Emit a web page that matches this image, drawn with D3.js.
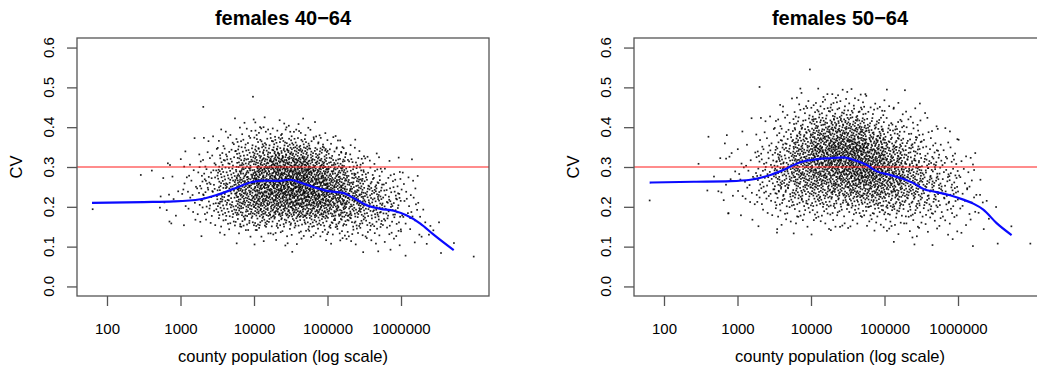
<!DOCTYPE html>
<html><head><meta charset="utf-8">
<script src="https://cdn.jsdelivr.net/npm/d3@7"></script>
<style>
body{margin:0;background:#fff}
svg{display:block}
text{font-family:"Liberation Sans",Arial,Helvetica,sans-serif;fill:#000}
</style>
</head><body>
<svg id="chart" width="1037" height="373"></svg>
<script>
// ---------------- data ----------------
const panelTitles = ["females 40\u221264", "females 50\u221264"];
const xAxisTitle = "county population (log scale)";
const yAxisTitle = "CV";
const xTickValues = [100, 1000, 10000, 100000, 1000000];
const xTickLabels = ["100", "1000", "10000", "100000", "1000000"];
const yTickValues = [0, 0.1, 0.2, 0.3, 0.4, 0.5, 0.6];
const yTickLabels = ["0.0", "0.1", "0.2", "0.3", "0.4", "0.5", "0.6"];
const refLineCV = 0.3;

// dense point cloud: counts of counties per cell (x = log10 population bin, y = CV bin)
const binLog10Start = [2.75, 3.0, 3.25, 3.5, 3.75, 4.0, 4.25, 4.5, 4.75, 5.0, 5.25, 5.5, 5.75, 6.0];
const binLog10Width = 0.25;
const cvBinWidth = 0.025;
const cvBinStart_40_64 = 0.075;
const counts_40_64 = [
  [0,0,0,1,2,2,2,1,1,1,0,0,0,0],
  [0,0,0,2,3,4,5,4,3,2,1,1,0,0],
  [0,0,1,4,7,10,11,10,8,6,4,2,1,0],
  [0,0,3,9,16,21,22,21,17,13,9,5,3,1],
  [0,1,5,14,26,34,37,36,31,24,16,9,5,2],
  [0,2,7,17,33,44,49,50,45,37,24,14,7,2],
  [0,3,7,17,35,48,55,58,55,46,30,16,8,3],
  [1,2,7,18,37,52,60,62,57,47,31,16,7,2],
  [0,2,8,20,36,50,56,53,45,34,21,10,4,1],
  [0,3,8,18,32,42,45,40,32,22,12,5,1,0],
  [1,3,8,16,26,32,31,26,19,11,5,2,0,0],
  [1,3,7,13,19,22,20,15,9,4,2,0,0,0],
  [1,3,6,9,13,14,11,7,4,2,0,0,0,0],
  [1,1,3,4,5,6,4,3,2,1,0,0,0,0]
];
const cvBinStart_50_64 = 0.1;
const counts_50_64 = [
  [0,0,0,1,1,2,2,1,1,1,1,0,0,0,0,0,0],
  [0,0,1,1,3,4,4,4,3,2,1,1,1,0,0,0,0],
  [0,0,1,3,5,8,10,10,9,7,5,3,2,1,0,0,0],
  [0,1,3,6,11,16,20,21,19,16,11,8,5,2,1,0,0],
  [0,1,4,8,15,22,28,32,33,30,24,18,12,7,4,1,0],
  [0,2,4,9,17,26,35,41,44,44,38,30,21,11,5,2,0],
  [0,2,4,9,18,28,38,45,50,51,46,36,25,14,7,3,0],
  [0,1,4,10,21,33,44,51,54,53,46,36,24,13,6,2,0],
  [0,2,5,12,23,34,44,49,48,42,33,22,14,7,3,1,0],
  [1,3,6,12,21,30,37,39,35,28,20,13,8,4,2,1,0],
  [1,2,5,10,17,23,27,26,22,17,12,8,5,3,1,1,0],
  [1,2,5,9,13,17,18,16,13,9,6,4,2,1,0,0,0],
  [1,2,4,6,9,11,11,9,7,5,3,2,0,0,0,0,0],
  [1,1,2,3,4,5,4,4,3,2,1,0,0,0,0,0,0]
];

// isolated points (log10 population, CV)
const sparseLog10Pop_40_64 = [1.805,2.46,2.61,2.73,2.72,2.857,2.85,3.05,3.31,3.986,4.018,4.13,6.26,6.28,6.303,6.33,6.35,6.38,6.40,6.44,6.517,6.544,6.72,6.989];
const sparseCV_40_64     = [0.194,0.280,0.291,0.226,0.198,0.305,0.163,0.301,0.451,0.4765,0.412,0.40,0.175,0.125,0.193,0.161,0.107,0.130,0.152,0.141,0.161,0.084,0.109,0.075];
const sparseLog10Pop_50_64 = [1.805,2.47,2.605,2.59,2.74,2.68,2.845,2.92,2.855,2.877,3.30,3.58,3.62,3.855,3.985,4.17,4.29,4.74,3.54,5.38,5.44,6.28,6.30,6.305,6.337,6.35,6.39,6.42,6.518,6.54,6.726,6.984];
const sparseCV_50_64     = [0.216,0.308,0.376,0.241,0.239,0.276,0.321,0.335,0.380,0.184,0.501,0.456,0.452,0.497,0.545,0.476,0.483,0.483,0.144,0.123,0.126,0.185,0.23,0.268,0.211,0.144,0.215,0.17,0.1995,0.1076,0.151,0.1076];

// smoothed (loess) curves (log10 population, CV)
const curveLog10Pop_40_64 = [1.796,2.499,2.907,3.27,3.497,3.723,3.95,4.13,4.313,4.494,4.63,4.81,4.993,5.22,5.356,5.537,5.72,5.9,6.08,6.263,6.444,6.717];
const curveCV_40_64     = [0.210,0.212,0.2136,0.219,0.230,0.245,0.261,0.266,0.265,0.268,0.261,0.2495,0.240,0.2345,0.222,0.2036,0.195,0.190,0.178,0.158,0.130,0.091];
const curveLog10Pop_50_64 = [1.805,2.407,2.905,3.176,3.448,3.629,3.855,4.081,4.262,4.443,4.579,4.76,4.896,5.077,5.258,5.394,5.529,5.71,5.891,6.072,6.208,6.344,6.525,6.729];
const curveCV_50_64     = [0.261,0.263,0.2645,0.268,0.280,0.293,0.312,0.3196,0.322,0.324,0.318,0.305,0.289,0.280,0.270,0.2595,0.245,0.237,0.229,0.218,0.208,0.193,0.159,0.129];

// ---------------- drawing ----------------
const svg = d3.select("#chart");
const boxW = 412, boxH = 258, boxTop = 38;
const panelLeft = [77, 634];

// deterministic within-cell placement (low-discrepancy sequence)
function halton(i, b) { let f = 1, r = 0; while (i > 0) { f /= b; r += f * (i % b); i = Math.floor(i / b); } return r; }

const panels = [
  {title: panelTitles[0], counts: counts_40_64, cvStart: cvBinStart_40_64,
   sx: sparseLog10Pop_40_64, sy: sparseCV_40_64, cx: curveLog10Pop_40_64, cy: curveCV_40_64},
  {title: panelTitles[1], counts: counts_50_64, cvStart: cvBinStart_50_64,
   sx: sparseLog10Pop_50_64, sy: sparseCV_50_64, cx: curveLog10Pop_50_64, cy: curveCV_50_64}
];

panels.forEach((p, pi) => {
  const g = svg.append("g").attr("transform", `translate(${panelLeft[pi]},${boxTop})`);
  const x = d3.scaleLog().domain([Math.pow(10, 1.592), Math.pow(10, 7.197)]).range([0, boxW]);
  const y = d3.scaleLinear().domain([-0.024, 0.624]).range([boxH, 0]);

  // points
  const pts = [];
  let k = 1;
  p.counts.forEach((row, bi) => {
    row.forEach((n, ci) => {
      for (let j = 0; j < n; j++) {
        const lx = binLog10Start[bi] + halton(k, 2) * binLog10Width;
        const cv = p.cvStart + ci * cvBinWidth + halton(k, 3) * cvBinWidth;
        k++;
        pts.push([Math.pow(10, lx), cv]);
      }
    });
  });
  p.sx.forEach((lx, i) => pts.push([Math.pow(10, lx), p.sy[i]]));

  g.append("g").selectAll("rect").data(pts).join("rect")
    .attr("x", d => x(d[0]) - 0.85).attr("y", d => y(d[1]) - 0.85)
    .attr("width", 1.7).attr("height", 1.7)
    .attr("fill", "#000").attr("fill-opacity", 0.88);

  // reference line
  g.append("line").attr("x1", 0).attr("x2", boxW)
    .attr("y1", y(refLineCV)).attr("y2", y(refLineCV))
    .attr("stroke", "#ff1a1a").attr("stroke-width", 1.1);

  // smooth curve
  const cdata = p.cx.map((lx, i) => [Math.pow(10, lx), p.cy[i]]);
  g.append("path").datum(cdata)
    .attr("fill", "none").attr("stroke", "#0a0aff").attr("stroke-width", 2.2)
    .attr("d", d3.line().x(d => x(d[0])).y(d => y(d[1])).curve(d3.curveMonotoneX));

  // box
  g.append("rect").attr("x", 0).attr("y", 0).attr("width", boxW).attr("height", boxH)
    .attr("fill", "none").attr("stroke", "#555").attr("stroke-width", 1.3);

  // x axis
  const xa = g.append("g").attr("transform", `translate(0,${boxH})`)
    .call(d3.axisBottom(x).tickValues(xTickValues).tickFormat((d, i) => xTickLabels[i])
      .tickSize(10).tickPadding(17));
  xa.select(".domain").remove();
  xa.selectAll(".tick line").attr("stroke", "#555").attr("stroke-width", 1.3);
  xa.selectAll(".tick text").attr("font-size", 15).attr("font-family", null).attr("fill", "#000");

  // y axis
  const ya = g.append("g")
    .call(d3.axisLeft(y).tickValues(yTickValues).tickFormat("").tickSize(10));
  ya.select(".domain").remove();
  ya.selectAll(".tick line").attr("stroke", "#555").attr("stroke-width", 1.3);
  ya.selectAll(".tick text").remove();
  g.append("g").selectAll("text").data(yTickValues).join("text")
    .attr("transform", d => `translate(-23,${y(d)}) rotate(-90)`)
    .attr("text-anchor", "middle").attr("font-size", 15)
    .text((d, i) => yTickLabels[i]);

  // labels
  g.append("text").attr("transform", `translate(-55,${y(0.3)}) rotate(-90)`)
    .attr("text-anchor", "middle").attr("font-size", 16.5).text(yAxisTitle);
  g.append("text").attr("x", boxW / 2).attr("y", 362 - boxTop)
    .attr("text-anchor", "middle").attr("font-size", 16.5).text(xAxisTitle);
  g.append("text").attr("x", boxW / 2).attr("y", 25 - boxTop)
    .attr("text-anchor", "middle").attr("font-size", 20).attr("font-weight", "bold").text(p.title);
});
</script>
</body></html>
